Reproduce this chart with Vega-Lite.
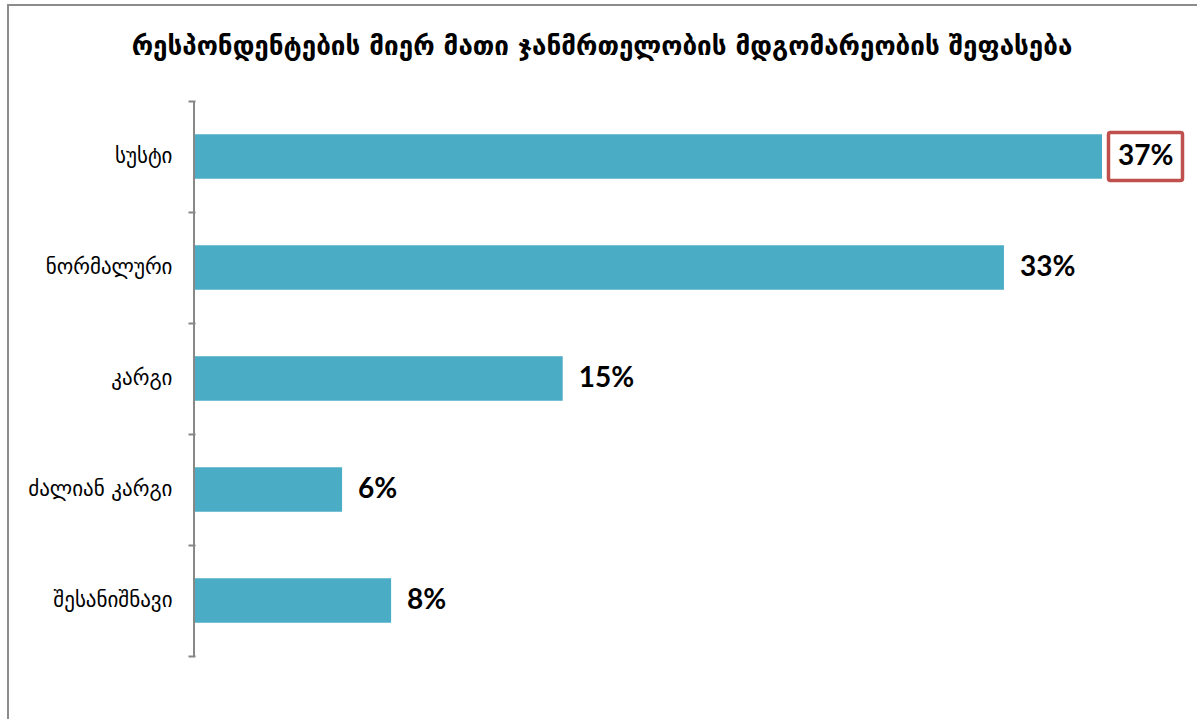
{
  "$schema": "https://vega.github.io/schema/vega-lite/v6.json",
  "autosize": "none",
  "padding": {"left": 8, "top": 5, "right": 0, "bottom": 0},
  "width": 1200,
  "height": 720,
  "background": "white",
  "config": {"view": {"stroke": "#8c8c8c", "strokeWidth": 2}},
  "title": {
    "text": "რესპონდენტების მიერ მათი ჯანმრთელობის მდგომარეობის შეფასება",
    "font": "DejaVu Sans",
    "fontSize": 26,
    "fontWeight": "bold",
    "color": "#000000",
    "anchor": "middle",
    "offset": -66,
    "dx": -6
  },
  "data": {
    "values": [
      {"cat": "სუსტი", "value": 0.37},
      {"cat": "ნორმალური", "value": 0.33},
      {"cat": "კარგი", "value": 0.15},
      {"cat": "ძალიან კარგი", "value": 0.06},
      {"cat": "შესანიშნავი", "value": 0.08}
    ]
  },
  "layer": [
    {
      "mark": {"type": "bar", "color": "#4bacc6", "height": {"band": 0.4}},
      "encoding": {
        "y": {
          "field": "cat",
          "type": "nominal",
          "sort": null,
          "scale": {"paddingInner": 0, "paddingOuter": 0.743, "align": 0.582},
          "axis": {
            "orient": "left",
            "offset": -187,
            "domain": false,
            "grid": false,
            "tickBand": "extent",
            "ticks": true,
            "tickSize": 7,
            "tickColor": "#868686",
            "tickWidth": 2,
            "labelFont": "DejaVu Sans",
            "labelFontSize": 21,
            "labelColor": "#000000",
            "labelPadding": 16,
            "title": null
          }
        },
        "x": {
          "field": "value",
          "type": "quantitative",
          "scale": {"domain": [-0.07628, 0.41324], "nice": false, "zero": false},
          "axis": null
        }
      }
    },
    {
      "mark": {"type": "bar", "color": "#868686", "height": {"band": 1}},
      "encoding": {
        "y": {"field": "cat", "type": "nominal", "sort": null},
        "x": {"datum": -0.0008},
        "x2": {"datum": 0}
      }
    },
    {
      "data": {"values": [{}]},
      "mark": {"type": "bar", "fill": "white", "stroke": "#c0504d", "strokeWidth": 3.5, "cornerRadius": 2, "height": {"band": 0.432}},
      "encoding": {
        "y": {"datum": "სუსტი"},
        "x": {"datum": 0.37265},
        "x2": {"datum": 0.40284}
      }
    },
    {
      "mark": {"type": "text", "align": "left", "baseline": "middle", "dx": 16, "font": "Lato", "fontSize": 28, "fontWeight": "bold", "color": "#000000"},
      "encoding": {
        "y": {"field": "cat", "type": "nominal", "sort": null},
        "x": {"field": "value", "type": "quantitative"},
        "text": {"field": "value", "type": "quantitative", "format": ".0%"}
      }
    }
  ]
}
